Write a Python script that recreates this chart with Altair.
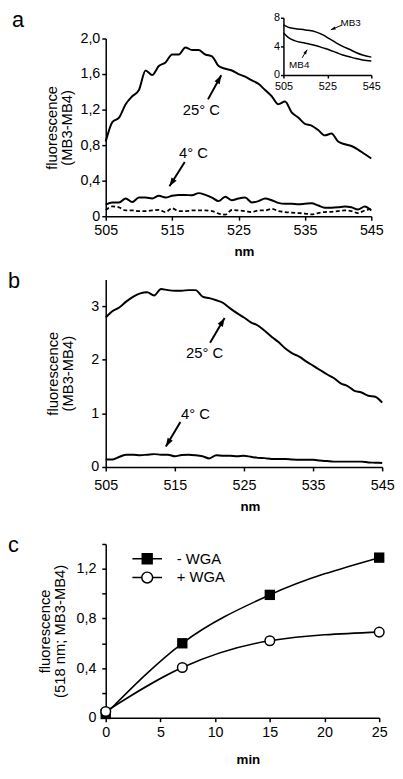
import math
import altair as alt
import pandas as pd

FONT = "Liberation Sans"

# ---------------- data ----------------
nm = list(range(505, 546))
a_25c = [0.84, 1.06, 1.11, 1.26, 1.35, 1.42, 1.64, 1.59, 1.69, 1.73,
         1.82, 1.82, 1.90, 1.87, 1.87, 1.82, 1.80, 1.69, 1.66, 1.64,
         1.60, 1.57, 1.53, 1.49, 1.42, 1.35, 1.26, 1.29, 1.17, 1.11,
         1.04, 1.02, 0.97, 0.91, 0.93, 0.84, 0.81, 0.79, 0.75, 0.70, 0.65]
a_4c = [0.13, 0.155, 0.155, 0.20, 0.16, 0.21, 0.21, 0.20, 0.23, 0.21,
        0.23, 0.24, 0.24, 0.235, 0.26, 0.24, 0.21, 0.17, 0.22, 0.18,
        0.20, 0.21, 0.155, 0.17, 0.20, 0.18, 0.15, 0.14, 0.14, 0.135,
        0.14, 0.145, 0.12, 0.095, 0.095, 0.10, 0.11, 0.10, 0.075, 0.11, 0.065]
a_ctrl = [0.07, 0.11, 0.10, 0.065, 0.065, 0.058, 0.058, 0.065, 0.072, 0.047,
          0.09, 0.058, 0.058, 0.065, 0.065, 0.065, 0.058, 0.03, 0.018, 0.07,
          0.065, 0.058, 0.047, 0.065, 0.065, 0.083, 0.058, 0.047, 0.04, 0.036,
          0.03, 0.02, 0.036, 0.047, 0.05, 0.058, 0.065, 0.058, 0.036, 0.065, 0.083]

inset_nm = [505, 507, 510, 515, 520, 523, 526, 529, 532, 535, 538, 541, 545]
inset_mb3 = [7.0, 6.7, 6.5, 6.3, 6.0, 5.6, 5.05, 4.5, 4.0, 3.6, 3.15, 2.8, 2.5]
inset_mb4 = [5.9, 5.3, 4.8, 4.45, 4.1, 3.8, 3.5, 3.15, 2.8, 2.55, 2.3, 2.1, 1.95]

b_25c = [2.79, 2.91, 2.98, 3.09, 3.18, 3.24, 3.26, 3.20, 3.32, 3.30,
         3.29, 3.29, 3.30, 3.30, 3.18, 3.15, 3.11, 3.06, 2.96, 2.87,
         2.79, 2.70, 2.64, 2.54, 2.43, 2.33, 2.21, 2.12, 2.06, 1.97,
         1.89, 1.81, 1.73, 1.66, 1.56, 1.51, 1.42, 1.39, 1.33, 1.31, 1.20]
b_4c = [0.14, 0.14, 0.19, 0.23, 0.23, 0.22, 0.23, 0.24, 0.23, 0.23,
        0.20, 0.225, 0.23, 0.22, 0.20, 0.16, 0.22, 0.21, 0.21, 0.20,
        0.21, 0.19, 0.17, 0.165, 0.15, 0.15, 0.15, 0.14, 0.135, 0.135,
        0.135, 0.12, 0.11, 0.10, 0.10, 0.10, 0.10, 0.10, 0.085, 0.08, 0.075]

minutes = [0, 7, 15, 25]
minus_wga = [0.03, 0.60, 0.99, 1.29]
plus_wga = [0.05, 0.405, 0.62, 0.69]
wga_series = ["- WGA", "+ WGA"]

# annotations (data coordinates)
a_text = ["25° C", "4° C"]
a_text_x = [519.4, 518.2]
a_text_y = [1.20, 0.71]
a_arrow_x = [520.4, 516.9]
a_arrow_y = [1.315, 0.61]
a_arrow_x2 = [522.4, 514.6]
a_arrow_y2 = [1.587, 0.337]

i_text = ["MB3", "MB4"]
i_text_x = [535.6, 512.2]
i_text_y = [7.3, 1.4]
i_arrow_x = [531.5, 513.5]
i_arrow_y = [6.96, 2.4]
i_arrow_x2 = [526.6, 515.8]
i_arrow_y2 = [6.33, 3.54]

b_text = ["25° C", "4° C"]
b_text_x = [519.3, 518.0]
b_text_y = [2.12, 0.99]
b_arrow_x = [520.1, 515.8]
b_arrow_y = [2.32, 0.84]
b_arrow_x2 = [522.2, 513.7]
b_arrow_y2 = [2.78, 0.38]

# ---------------- layout / style ----------------
W_A, H_A = 269, 180
W_B, H_B = 280, 190
W_C, H_C = 277, 176
INSET_X_RANGE = [180, 269]
INSET_Y_RANGE = [37, -21]
HEAD = "M0,0L-0.35,1L0.35,1Z"
SQ_PATH = "M-1.5,0H1.5M-0.5,-0.5H0.5V0.5H-0.5Z"
CI_PATH = "M-1.5,0H-0.55M0.55,0H1.5M0.55,0A0.55,0.55,0,1,1,-0.55,0A0.55,0.55,0,1,1,0.55,0Z"

COMMA = "datum.value == 0 ? '0' : replace(format(datum.value, '.1f'), '.', ',')"


def arrow_frames(x, y, x2, y2, kx, ky):
    shafts = pd.DataFrame({"x": x, "y": y, "x2": x2, "y2": y2})
    ang = []
    for a, b, c, d in zip(x, y, x2, y2):
        dx = (c - a) * kx
        dy = -(d - b) * ky
        ang.append(math.degrees(math.atan2(dx, -dy)) % 360)
    heads = pd.DataFrame({"x": x2, "y": y2, "angle": ang})
    return shafts, heads


def arrow_layers(shafts, heads, xe, ye, width, size):
    rule = alt.Chart(shafts).mark_rule(color="black", strokeWidth=width).encode(
        x=xe, y=ye, x2="x2:Q", y2="y2:Q")
    head = alt.Chart(heads).mark_point(shape=HEAD, filled=True, color="black",
                                       opacity=1, size=size, strokeWidth=0).encode(
        x=xe, y=ye, angle=alt.Angle("angle:Q", scale=None))
    return [rule, head]


def letter(t, dx, dy):
    return alt.TitleParams(text=t, anchor="start", frame="group", dx=dx, dy=dy,
                           baseline="alphabetic", fontSize=22, font=FONT,
                           fontWeight="normal", color="black", offset=0)


# ---------------- panel a ----------------
xa = alt.X("x:Q", scale=alt.Scale(domain=[505, 545], nice=False, zero=False),
           axis=alt.Axis(values=[505, 515, 525, 535, 545], title="nm", labelPadding=4,
                         titleX=140, titleY=40, titleAlign="center",
                         titleBaseline="alphabetic", labelFlush=False,
                         labelOverlap=False))
ya = alt.Y("y:Q", scale=alt.Scale(domain=[0, 2], nice=False),
           axis=alt.Axis(values=[0, 0.4, 0.8, 1.2, 1.6, 2.0], labelExpr=COMMA,
                         title=["fluorescence", "(MB3-MB4)"], titleX=-47,
                         titleAngle=270, titleBaseline="bottom", titleAlign="center",
                         titleLineHeight=15, labelPadding=2))

a_df = pd.DataFrame({"x": nm * 3, "y": a_25c + a_4c + a_ctrl,
                     "s": ["25C"] * 41 + ["4C"] * 41 + ["ctrl"] * 41})
a_solid = alt.Chart(a_df[a_df.s != "ctrl"]).mark_line(
    color="black", strokeWidth=2, interpolate="monotone").encode(x=xa, y=ya, detail="s:N")
a_dash = alt.Chart(a_df[a_df.s == "ctrl"]).mark_line(
    color="black", strokeWidth=1.8, strokeDash=[4, 2.5], interpolate="monotone").encode(x=xa, y=ya)
a_txt = alt.Chart(pd.DataFrame({"x": a_text_x, "y": a_text_y, "t": a_text})).mark_text(
    font=FONT, fontSize=15, color="black").encode(x=xa, y=ya, text="t:N")
s_a, h_a = arrow_frames(a_arrow_x, a_arrow_y, a_arrow_x2, a_arrow_y2, W_A / 40, H_A / 2)
a_main = alt.layer(a_solid, a_dash, a_txt, *arrow_layers(s_a, h_a, xa, ya, 2, 300))

xi = alt.X("x:Q", scale=alt.Scale(domain=[505, 545], nice=False, zero=False,
                                  range=INSET_X_RANGE),
           axis=alt.Axis(orient="bottom", offset=INSET_Y_RANGE[0] - H_A,
                         values=[505, 525, 545], title=None, labelFontSize=11,
                         tickSize=3, labelPadding=3, labelFlush=False, labelOverlap=False))
yi = alt.Y("y:Q", scale=alt.Scale(domain=[0, 8], nice=False, range=INSET_Y_RANGE),
           axis=alt.Axis(orient="left", offset=-INSET_X_RANGE[0], values=[0, 4, 8],
                         title=None, labelFontSize=11, tickSize=3, labelPadding=1))
i_df = pd.DataFrame({"x": inset_nm * 2, "y": inset_mb3 + inset_mb4,
                     "s": ["MB3"] * len(inset_nm) + ["MB4"] * len(inset_nm)})
i_lines = alt.Chart(i_df).mark_line(color="black", strokeWidth=1.5,
                                    interpolate="monotone").encode(x=xi, y=yi, detail="s:N")
i_txt = alt.Chart(pd.DataFrame({"x": i_text_x, "y": i_text_y, "t": i_text})).mark_text(
    font=FONT, fontSize=10, color="black").encode(x=xi, y=yi, text="t:N")
s_i, h_i = arrow_frames(i_arrow_x, i_arrow_y, i_arrow_x2, i_arrow_y2,
                        (INSET_X_RANGE[1] - INSET_X_RANGE[0]) / 40,
                        (INSET_Y_RANGE[0] - INSET_Y_RANGE[1]) / 8)
a_inset = alt.layer(i_lines, i_txt, *arrow_layers(s_i, h_i, xi, yi, 1, 90))

panel_a = alt.layer(a_main, a_inset).resolve_scale(x="independent", y="independent").properties(
    width=W_A, height=H_A, title=letter("a", -95, 37))

# ---------------- panel b ----------------
xb = alt.X("x:Q", scale=alt.Scale(domain=[505, 545], nice=False, zero=False),
           axis=alt.Axis(values=[505, 515, 525, 535, 545], title="nm", labelPadding=8,
                         titleX=146, titleY=44, titleAlign="center",
                         titleBaseline="alphabetic", labelFlush=False, labelOverlap=False))
yb = alt.Y("y:Q", scale=alt.Scale(domain=[0, 3.5], nice=False),
           axis=alt.Axis(values=[0, 1, 2, 3], format="d",
                         title=["fluorescence", "(MB3-MB4)"], titleX=-46,
                         titleAngle=270, titleBaseline="bottom", titleAlign="center",
                         titleLineHeight=15, labelPadding=3))
b_df = pd.DataFrame({"x": nm * 2, "y": b_25c + b_4c, "s": ["25C"] * 41 + ["4C"] * 41})
b_lines = alt.Chart(b_df).mark_line(color="black", strokeWidth=2,
                                    interpolate="monotone").encode(x=xb, y=yb, detail="s:N")
b_txt = alt.Chart(pd.DataFrame({"x": b_text_x, "y": b_text_y, "t": b_text})).mark_text(
    font=FONT, fontSize=15, color="black").encode(x=xb, y=yb, text="t:N")
s_b, h_b = arrow_frames(b_arrow_x, b_arrow_y, b_arrow_x2, b_arrow_y2, W_B / 40, H_B / 3.5)
panel_b = alt.layer(b_lines, b_txt, *arrow_layers(s_b, h_b, xb, yb, 2, 300)).properties(
    width=W_B, height=H_B, title=letter("b", -99, 31))

# ---------------- panel c ----------------
xc = alt.X("x:Q", scale=alt.Scale(domain=[0, 25], nice=False),
           axis=alt.Axis(values=[0, 5, 10, 15, 20, 25], title="min", labelPadding=4,
                         titleX=144, titleY=46, titleAlign="center",
                         titleBaseline="alphabetic", labelFlush=False, labelOverlap=False))
yc = alt.Y("y:Q", scale=alt.Scale(domain=[0, 1.4], nice=False),
           axis=alt.Axis(values=[0, 0.2, 0.4, 0.6, 0.8, 1.0, 1.2, 1.4],
                         labelExpr="(round(datum.value*10) % 4 == 0) ? (" + COMMA + ") : ''",
                         title=["fluorescence", "(518 nm; MB3-MB4)"], titleX=-54,
                         titleAngle=270, titleBaseline="bottom", titleAlign="center",
                         titleLineHeight=15, labelPadding=6, labelOverlap=False))
c_df = pd.DataFrame({"x": minutes * 2, "y": minus_wga + plus_wga,
                     "s": [wga_series[0]] * 4 + [wga_series[1]] * 4})
c_lines = alt.Chart(c_df).mark_line(color="black", strokeWidth=1.6,
                                    interpolate="monotone").encode(x=xc, y=yc, detail="s:N")
c_sq = alt.Chart(c_df[c_df.s == wga_series[0]]).mark_point(
    shape="square", filled=True, color="black", opacity=1, size=110).encode(x=xc, y=yc)
c_ci = alt.Chart(c_df[c_df.s == wga_series[1]]).mark_point(
    shape="circle", filled=True, fill="white", stroke="black", strokeWidth=1.5,
    opacity=1, size=95).encode(x=xc, y=yc)

leg = alt.Legend(orient="none", legendX=31, legendY=4, title=None,
                 symbolSize=400, symbolStrokeColor="black",
                 symbolStrokeWidth=1.5, symbolOpacity=1,
                 labelFont=FONT, labelFontSize=15, labelColor="black",
                 labelOffset=19, rowPadding=0, padding=0)
c_leg = alt.Chart(c_df).transform_filter("false").mark_point(
    filled=True, strokeWidth=1.5, opacity=1).encode(
    x=xc, y=yc,
    shape=alt.Shape("s:N", scale=alt.Scale(domain=wga_series, range=[SQ_PATH, CI_PATH]),
                    legend=leg),
    fill=alt.Fill("s:N", scale=alt.Scale(domain=wga_series, range=["black", "white"]),
                  legend=leg),
    stroke=alt.Stroke("s:N", scale=alt.Scale(domain=wga_series, range=["black", "black"]),
                      legend=leg))
panel_c = alt.layer(c_lines, c_sq, c_ci, c_leg).properties(
    width=W_C, height=H_C, title=letter("c", -99, 38))

chart = alt.vconcat(
    alt.vconcat(panel_a, panel_b, spacing=12), panel_c, spacing=21
).resolve_legend(shape="independent", fill="independent", stroke="independent").properties(
    padding={"left": 0, "top": -4, "right": 0, "bottom": -3}
).configure(font=FONT).configure_view(stroke=None).configure_axis(
    grid=False, domainColor="black", domainWidth=1.5, tickColor="black", tickWidth=1.5,
    tickSize=4, labelColor="black", titleColor="black", labelFont=FONT, titleFont=FONT,
    labelFontSize=14.5, titleFontSize=15, titleFontWeight="normal"
).configure_axisX(titleFontWeight="bold", titleFontSize=13.5)

chart.save("out.html", embed_options={"renderer": "svg", "actions": False})
